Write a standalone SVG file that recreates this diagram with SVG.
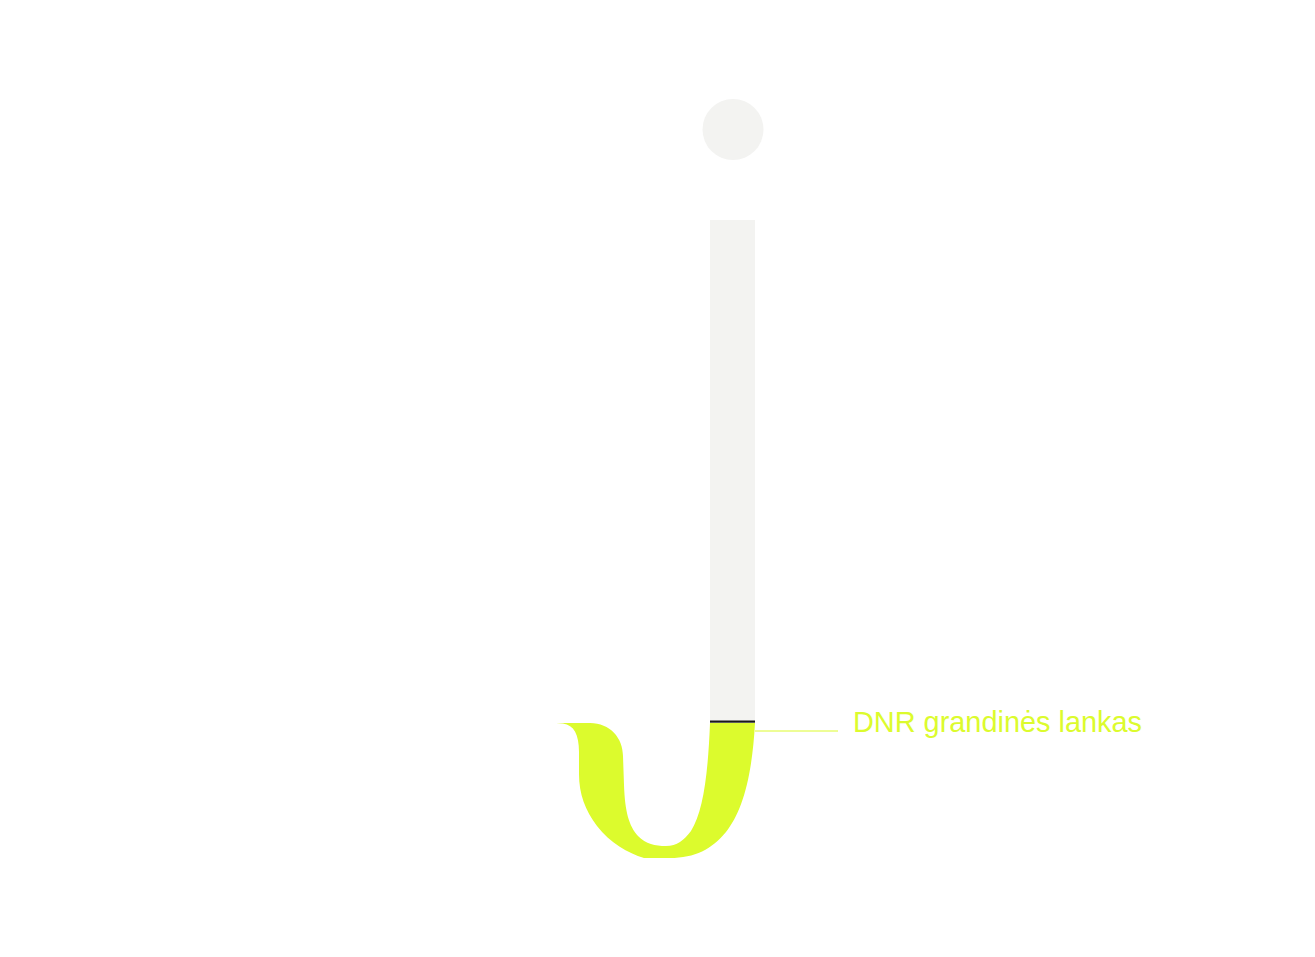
<svg xmlns="http://www.w3.org/2000/svg" width="1315" height="957" viewBox="0 0 1315 957">
<style>
.gray{fill:#f3f3f1}
.lime{fill:#dcfb2d}
.lbl{font-family:"Liberation Sans",Arial,sans-serif;font-size:28.9px;fill:#dcfb2d}
</style>
<rect width="1315" height="957" fill="#ffffff"/>
<g id="dot"><circle class="gray" cx="733" cy="129.5" r="30.5"/></g>
<g id="stem"><rect class="gray" x="710" y="220" width="45" height="501"/></g>
<g id="hook">
<path class="lime" d="M550,723 L590,723 C610,723 623,738 623,756 L624,785 C625,812 629,826 638,836 C646,844 655,846 666,846 C677,846 684,840 691,831 C703,812 708,775 710,723 L755,723 C752,778 742,812 726,832 C712,849 695,858 670,858 L644,858 C628,853 610,843 597,826 C585,810 579,794 579,774 L579,752 C579,735 574,725 563,723.6 C558,723.1 554,723 550,723 Z"/>
<rect x="710" y="720.5" width="45" height="2.2" fill="#1a1a1a"/>
</g>
<g id="connectors"><line x1="755" y1="731" x2="838" y2="731" stroke="#dcfb2d" stroke-width="1"/></g>
<g id="label"><text class="lbl" x="853" y="731.5">DNR grandinės lankas</text></g>
</svg>
